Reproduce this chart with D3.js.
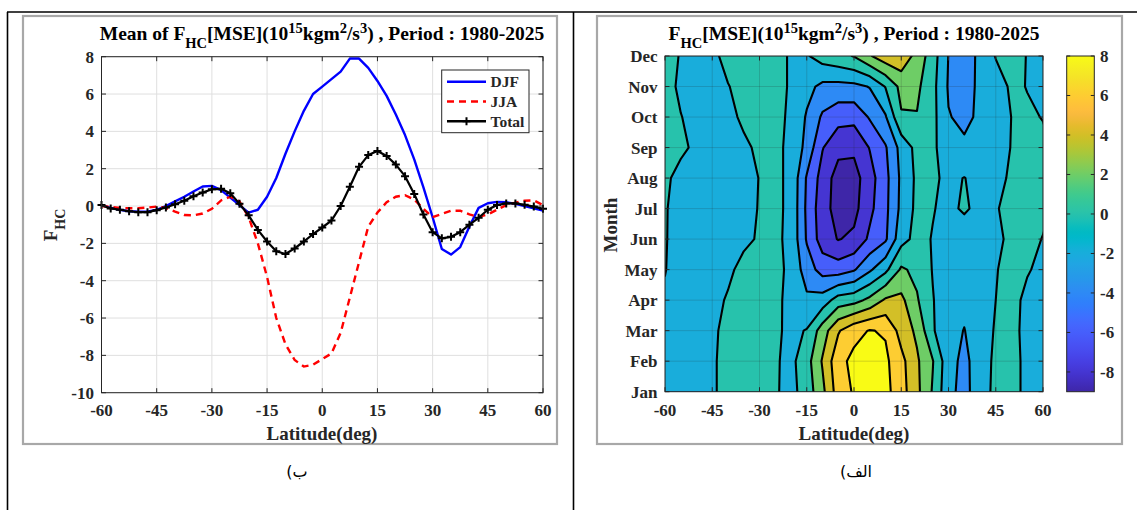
<!DOCTYPE html>
<html>
<head>
<meta charset="utf-8">
<script src="https://cdn.jsdelivr.net/npm/d3@7/dist/d3.min.js"></script>
<style>
html,body{margin:0;padding:0;background:#fff;}
svg text{font-family:"Liberation Serif","Times New Roman",Times,serif;font-weight:bold;fill:#262626;}
</style>
</head>
<body>
<svg id="chart" width="1137" height="510"></svg>
<script>
// ---------------- DATA ----------------
const lineLat = [-60,-57.5,-55,-52.5,-50,-47.5,-45,-42.5,-40,-37.5,-35,-32.5,-30,-27.5,-25,-22.5,-20,-17.5,-15,-12.5,-10,-7.5,-5,-2.5,0,2.5,5,7.5,10,12.5,15,17.5,20,22.5,25,27.5,30,32.5,35,37.5,40,42.5,45,47.5,50,52.5,55,57.5,60];
const djf   = [0.05,-0.1,-0.2,-0.28,-0.3,-0.3,-0.2,0.0,0.25,0.5,0.78,1.05,1.08,0.85,0.45,0.05,-0.35,-0.2,0.5,1.5,2.8,4.0,5.1,6.0,6.4,6.8,7.2,7.9,7.9,7.4,6.7,5.9,4.9,3.8,2.5,1.0,-0.6,-2.3,-2.6,-2.2,-1.1,-0.1,0.15,0.22,0.2,0.12,0.0,-0.12,-0.25];
const jja   = [0.0,-0.05,-0.1,-0.12,-0.12,-0.08,-0.03,-0.1,-0.3,-0.48,-0.5,-0.4,-0.15,0.3,0.5,0.25,-0.6,-2.0,-3.8,-6.0,-7.4,-8.25,-8.6,-8.5,-8.2,-7.9,-6.8,-4.9,-3.0,-1.1,-0.35,0.2,0.5,0.58,0.35,-0.15,-0.6,-0.42,-0.25,-0.25,-0.45,-0.58,-0.45,-0.2,0.05,0.18,0.28,0.3,0.05];
const total = [0.05,-0.13,-0.2,-0.28,-0.33,-0.33,-0.22,-0.08,0.1,0.28,0.52,0.72,0.9,0.92,0.68,0.12,-0.5,-1.28,-1.9,-2.42,-2.57,-2.27,-1.9,-1.5,-1.15,-0.78,0.0,1.03,2.1,2.73,2.95,2.68,2.22,1.6,0.65,-0.45,-1.4,-1.73,-1.65,-1.4,-1.0,-0.63,-0.2,0.05,0.14,0.14,0.07,-0.03,-0.15];
const seriesNames = ["DJF","JJA","Total"];

const xTickVals = [-60,-45,-30,-15,0,15,30,45,60];
const yTickValsLeft = [-10,-8,-6,-4,-2,0,2,4,6,8];
const months = ["Jan","Feb","Mar","Apr","May","Jun","Jul","Aug","Sep","Oct","Nov","Dec"];

// contour field, one row per month, columns = gridLat
const gridLat = [-60,-55,-50,-45,-40,-35,-30,-25,-20,-15,-10,-5,0,5,10,15,20,25,30,35,40,45,50,55,60];
const fJan = [-0.6,-0.5,-0.4,-0.2,0.5,0.8,0.7,0.2,-0.6,0.9,3.5,7.0,8.2,9.0,8.6,6.8,4.5,1.8,-1.5,-2.6,-0.93,0.48,0.4,-0.3,-0.6];
const fFeb = [-0.5,-0.5,-0.4,-0.2,0.5,0.8,0.6,0.2,-0.5,1.2,4.2,7.4,8.5,8.8,8.4,6.6,4.3,2.1,-1.3,-2.5,-1.0,0.4,0.4,-0.3,-0.5];
const fMar = [-0.3,-0.5,-0.4,-0.25,0.4,0.7,0.6,0.3,-0.4,0.1,3.0,5.8,7.4,8.1,7.8,5.2,3.6,0.2,-1.4,-2.05,-1.1,0.2,0.3,-0.3,-0.5];
const fApr = [-0.2,-0.5,-0.5,-0.3,0.1,0.6,0.8,0.4,-0.5,-1.6,-1.1,0.9,1.3,2.5,4.3,4.5,2.2,0.1,-1.2,-1.6,-1.1,0.0,0.4,-0.3,-0.5];
const fMay = [0.05,-0.6,-0.7,-0.5,-0.2,0.3,0.7,0.5,-0.4,-3.0,-4.8,-5.0,-4.2,-2.3,-0.5,2.3,1.5,-0.1,-1.0,-1.3,-0.9,-0.05,0.3,0.1,-0.3];
const fJun = [0.1,-0.6,-0.8,-0.6,-0.4,-0.2,0.1,0.4,-0.5,-4.2,-7.0,-8.1,-7.6,-5.6,-4.3,-0.7,0.6,-0.1,-0.9,-1.3,-0.8,-0.3,0.3,0.4,-0.05];
const fJul = [0.1,-0.5,-0.8,-0.7,-0.5,-0.3,0.05,0.4,-0.4,-4.4,-7.2,-8.8,-8.6,-6.5,-4.5,-1.5,0.5,0.1,-0.5,0.3,-0.6,-0.1,0.4,0.5,0.3];
const fAug = [0.3,-0.5,-0.8,-0.7,-0.5,-0.25,0.02,0.4,-0.4,-4.2,-6.8,-8.9,-8.8,-6.8,-4.6,-1.6,0.4,0.3,-0.4,0.05,-0.6,-0.4,0.2,0.6,0.5];
const fSep = [0.8,0.3,-0.3,-0.6,-0.45,-0.2,0.2,0.4,-0.4,-2.6,-5.9,-7.4,-7.6,-5.9,-4.2,-1.3,0.6,0.5,-1.5,-1.7,-1.2,-0.6,0.05,0.3,0.3];
const fOct = [0.7,0.05,-0.5,-0.5,-0.3,0.2,0.5,0.5,-0.3,-2.2,-4.3,-5.3,-5.4,-3.8,-2.2,1.8,1.9,0.6,-1.9,-2.4,-1.7,-0.9,0.02,0.2,-0.05];
const fNov = [0.6,-0.3,-0.6,-0.5,-0.05,0.4,0.6,0.6,-0.2,-1.4,-2.5,-2.6,-2.5,-1.9,0.1,2.6,2.4,0.6,-2.2,-2.8,-1.6,-0.9,0.3,-0.05,-0.6];
const fDec = [0.6,-0.1,-0.5,-0.3,0.4,0.7,0.7,0.6,-0.2,-0.2,0.9,1.4,2.1,3.8,5.2,5.4,3.3,0.9,-2.05,-2.9,-1.6,0.1,0.5,-0.05,-0.4];

const contourLevels = [-8,-6,-4,-2,0,2,4,6,8];
const colorbarTicks = [-8,-6,-4,-2,0,2,4,6,8];
const colorLimits = [-9, 8];

// MATLAB parula colormap (64 entries)
const parulaColors = [
[0.2422,0.1504,0.6603],[0.2504,0.1650,0.7076],[0.2578,0.1818,0.7511],[0.2647,0.1978,0.7952],[0.2706,0.2147,0.8364],[0.2751,0.2342,0.8710],[0.2783,0.2559,0.8991],[0.2803,0.2782,0.9221],
[0.2813,0.3006,0.9414],[0.2810,0.3228,0.9579],[0.2795,0.3447,0.9717],[0.2760,0.3667,0.9829],[0.2699,0.3892,0.9906],[0.2602,0.4123,0.9952],[0.2440,0.4358,0.9988],[0.2206,0.4603,0.9973],
[0.1963,0.4847,0.9892],[0.1834,0.5074,0.9798],[0.1786,0.5289,0.9682],[0.1764,0.5499,0.9520],[0.1687,0.5703,0.9359],[0.1540,0.5902,0.9218],[0.1460,0.6091,0.9079],[0.1380,0.6276,0.8973],
[0.1248,0.6459,0.8883],[0.1113,0.6635,0.8763],[0.0952,0.6798,0.8598],[0.0689,0.6948,0.8394],[0.0297,0.7082,0.8163],[0.0036,0.7203,0.7917],[0.0067,0.7312,0.7660],[0.0433,0.7411,0.7394],
[0.0964,0.7500,0.7120],[0.1408,0.7584,0.6842],[0.1717,0.7670,0.6554],[0.1938,0.7758,0.6251],[0.2161,0.7843,0.5923],[0.2470,0.7918,0.5567],[0.2906,0.7973,0.5188],[0.3406,0.8008,0.4789],
[0.3909,0.8029,0.4354],[0.4456,0.8024,0.3909],[0.5044,0.7993,0.3480],[0.5616,0.7942,0.3045],[0.6174,0.7876,0.2612],[0.6720,0.7793,0.2227],[0.7242,0.7698,0.1910],[0.7738,0.7598,0.1646],
[0.8203,0.7498,0.1535],[0.8634,0.7406,0.1596],[0.9035,0.7330,0.1774],[0.9393,0.7288,0.2100],[0.9728,0.7298,0.2394],[0.9956,0.7434,0.2371],[0.9970,0.7659,0.2199],[0.9952,0.7893,0.2028],
[0.9892,0.8136,0.1885],[0.9786,0.8386,0.1766],[0.9676,0.8639,0.1643],[0.9610,0.8890,0.1537],[0.9597,0.9135,0.1423],[0.9628,0.9373,0.1265],[0.9691,0.9606,0.1064],[0.9769,0.9839,0.0805]];

// ---------------- DRAW ----------------
const svg = d3.select("#chart");
const AX = "#262626";
const parula = d3.piecewise(d3.interpolateRgb, parulaColors.map(c => d3.rgb(c[0]*255, c[1]*255, c[2]*255)));
const cNorm = d3.scaleLinear().domain(colorLimits).range([0,1]).clamp(true);

function rich(t, parts, size, small){
  let cur = 0;
  parts.forEach(([s,k]) => {
    const target = k === "sub" ? 0.4*size : (k === "sup" ? -0.38*size : 0);
    t.append("tspan").attr("dy", target-cur).attr("font-size", k === "n" ? size : small).text(s);
    cur = target;
  });
}

// page frame (table lines) and picture frames
svg.append("line").attr("x1",7).attr("x2",1137).attr("y1",12).attr("y2",12).attr("stroke","#000").attr("stroke-width",1.6);
svg.append("line").attr("x1",7.5).attr("x2",7.5).attr("y1",12).attr("y2",510).attr("stroke","#000").attr("stroke-width",1.6);
svg.append("line").attr("x1",573.5).attr("x2",573.5).attr("y1",12).attr("y2",510).attr("stroke","#000").attr("stroke-width",1.6);
svg.append("rect").attr("x",23).attr("y",16).attr("width",534).attr("height",428).attr("fill","none").attr("stroke","#a8a8a8").attr("stroke-width",2.2);
svg.append("rect").attr("x",597).attr("y",16).attr("width",525).attr("height",428).attr("fill","none").attr("stroke","#a8a8a8").attr("stroke-width",2.2);

// ===== LEFT: line chart =====
const xL = d3.scaleLinear().domain([-60,60]).range([101.5,543]);
const yL = d3.scaleLinear().domain([-10,8]).range([392.7,56.7]);
const gL = svg.append("g");

gL.selectAll(".gx").data(xTickVals).join("line")
  .attr("x1",d=>xL(d)).attr("x2",d=>xL(d)).attr("y1",yL(8)).attr("y2",yL(-10))
  .attr("stroke","#dfdfdf").attr("stroke-width",1);
gL.selectAll(".gy").data(yTickValsLeft).join("line")
  .attr("x1",xL(-60)).attr("x2",xL(60)).attr("y1",d=>yL(d)).attr("y2",d=>yL(d))
  .attr("stroke","#dfdfdf").attr("stroke-width",1);

const lineGen = d3.line().x((d,i)=>xL(lineLat[i])).y(d=>yL(d));
gL.append("path").attr("d",lineGen(djf)).attr("fill","none").attr("stroke","#0000ff").attr("stroke-width",2.4).attr("stroke-linejoin","round");
gL.append("path").attr("d",lineGen(jja)).attr("fill","none").attr("stroke","#ff0000").attr("stroke-width",2.4).attr("stroke-dasharray","7,5");
gL.append("path").attr("d",lineGen(total)).attr("fill","none").attr("stroke","#000").attr("stroke-width",2.2).attr("stroke-linejoin","round");
gL.selectAll(".mk").data(total).join("path")
  .attr("transform",(d,i)=>`translate(${xL(lineLat[i])},${yL(d)})`)
  .attr("d","M-4,0H4M0,-4V4").attr("stroke","#000").attr("stroke-width",2).attr("fill","none");

// axes box + ticks
gL.append("rect").attr("x",xL(-60)).attr("y",yL(8)).attr("width",xL(60)-xL(-60)).attr("height",yL(-10)-yL(8))
  .attr("fill","none").attr("stroke",AX).attr("stroke-width",1);
const tl = 4.5;
gL.selectAll(".tb").data(xTickVals).join("path")
  .attr("d",d=>`M${xL(d)},${yL(-10)}v${-tl}M${xL(d)},${yL(8)}v${tl}`).attr("stroke",AX).attr("stroke-width",1);
gL.selectAll(".tlft").data(yTickValsLeft).join("path")
  .attr("d",d=>`M${xL(-60)},${yL(d)}h${tl}M${xL(60)},${yL(d)}h${-tl}`).attr("stroke",AX).attr("stroke-width",1);
gL.selectAll(".xl").data(xTickVals).join("text")
  .attr("x",d=>xL(d)).attr("y",416).attr("text-anchor","middle").attr("font-size",17).text(d=>d);
gL.selectAll(".yl").data(yTickValsLeft).join("text")
  .attr("x",94).attr("y",d=>yL(d)+6).attr("text-anchor","end").attr("font-size",17).text(d=>d);

// legend
const lg = gL.append("g");
lg.append("rect").attr("x",441.7).attr("y",70).attr("width",87.3).attr("height",62.7).attr("fill","#fff").attr("stroke",AX).attr("stroke-width",1);
const legStyles = [
  {c:"#0000ff", dash:null, mk:false},
  {c:"#ff0000", dash:"7,5", mk:false},
  {c:"#000000", dash:null, mk:true}];
seriesNames.forEach((n,i)=>{
  const yy = 81.7 + i*19.8;
  lg.append("line").attr("x1",447).attr("x2",486).attr("y1",yy).attr("y2",yy)
    .attr("stroke",legStyles[i].c).attr("stroke-width",2.4).attr("stroke-dasharray",legStyles[i].dash);
  if (legStyles[i].mk) lg.append("path").attr("d",`M462.5,${yy}h8M466.5,${yy-4}v8`).attr("stroke","#000").attr("stroke-width",2);
  lg.append("text").attr("x",490.5).attr("y",yy+5.5).attr("font-size",15.5).attr("fill","#000").text(n);
});

// titles / labels
rich(gL.append("text").attr("x",322).attr("y",40).attr("text-anchor","middle").style("fill","#000"),
  [["Mean of F","n"],["HC","sub"],["[MSE](10","n"],["15","sup"],["kgm","n"],["2","sup"],["/s","n"],["3","sup"],[") , Period : 1980-2025","n"]],19.5,14.5);
gL.append("text").attr("x",322).attr("y",440).attr("text-anchor","middle").attr("font-size",19).text("Latitude(deg)");
rich(gL.append("text").attr("transform","translate(57,225) rotate(-90)").attr("text-anchor","middle"),
  [["F","n"],["HC","sub"]],19,14);

// ===== RIGHT: filled contour =====
const xR = d3.scaleLinear().domain([-60,60]).range([665,1043]);
const yR = d3.scaleLinear().domain([1,12]).range([391.7,56]);
const rows = [fJan,fFeb,fMar,fApr,fMay,fJun,fJul,fAug,fSep,fOct,fNov,fDec];
const nx = gridLat.length, ny = rows.length;
const values = [].concat(...rows);
const gx2lat = d3.scaleLinear().domain([0.5, nx-0.5]).range([gridLat[0], gridLat[nx-1]]);
const gy2mon = d3.scaleLinear().domain([0.5, ny-0.5]).range([1, 12]);
const proj = d3.geoTransform({point:function(px,py){ this.stream.point(xR(gx2lat(px)), yR(gy2mon(py))); }});
const gpath = d3.geoPath(proj);
const cont = d3.contours().size([nx,ny]).thresholds(contourLevels)(values);

const defs = svg.append("defs");
defs.append("clipPath").attr("id","clipR").append("rect")
  .attr("x",xR(-60)).attr("y",yR(12)).attr("width",xR(60)-xR(-60)).attr("height",yR(1)-yR(12));
const gR = svg.append("g");
const gc = gR.append("g").attr("clip-path","url(#clipR)");
gc.append("rect").attr("x",xR(-60)).attr("y",yR(12)).attr("width",xR(60)-xR(-60)).attr("height",yR(1)-yR(12))
  .attr("fill",parula(0));
gc.selectAll(".cf").data(cont).join("path").attr("d",gpath)
  .attr("fill",d=>parula(cNorm(d.value))).attr("fill-rule","evenodd").attr("stroke","none");
gc.selectAll(".rgx").data(xTickVals).join("line")
  .attr("x1",d=>xR(d)).attr("x2",d=>xR(d)).attr("y1",yR(12)).attr("y2",yR(1))
  .attr("stroke","rgba(38,38,38,0.18)").attr("stroke-width",1);
gc.selectAll(".rgy").data(months).join("line")
  .attr("x1",xR(-60)).attr("x2",xR(60)).attr("y1",(d,i)=>yR(i+1)).attr("y2",(d,i)=>yR(i+1))
  .attr("stroke","rgba(38,38,38,0.18)").attr("stroke-width",1);
gc.selectAll(".cl").data(cont).join("path").attr("d",gpath)
  .attr("fill","none").attr("stroke","#000").attr("stroke-width",2.1).attr("stroke-linejoin","round");

gR.append("rect").attr("x",xR(-60)).attr("y",yR(12)).attr("width",xR(60)-xR(-60)).attr("height",yR(1)-yR(12))
  .attr("fill","none").attr("stroke",AX).attr("stroke-width",1);
gR.selectAll(".rtb").data(xTickVals).join("path")
  .attr("d",d=>`M${xR(d)},${yR(1)}v${-tl}M${xR(d)},${yR(12)}v${tl}`).attr("stroke",AX).attr("stroke-width",1);
gR.selectAll(".rtl").data(months).join("path")
  .attr("d",(d,i)=>`M${xR(-60)},${yR(i+1)}h${tl}M${xR(60)},${yR(i+1)}h${-tl}`).attr("stroke",AX).attr("stroke-width",1);
gR.selectAll(".rxl").data(xTickVals).join("text")
  .attr("x",d=>xR(d)).attr("y",416).attr("text-anchor","middle").attr("font-size",17).text(d=>d);
gR.selectAll(".ryl").data(months).join("text")
  .attr("x",657.5).attr("y",(d,i)=>yR(i+1)+6).attr("text-anchor","end").attr("font-size",17).text(d=>d);

rich(gR.append("text").attr("x",854).attr("y",40).attr("text-anchor","middle").style("fill","#000"),
  [["F","n"],["HC","sub"],["[MSE](10","n"],["15","sup"],["kgm","n"],["2","sup"],["/s","n"],["3","sup"],[") , Period : 1980-2025","n"]],19.5,14.5);
gR.append("text").attr("x",854).attr("y",440).attr("text-anchor","middle").attr("font-size",19).text("Latitude(deg)");
gR.append("text").attr("transform","translate(617,225) rotate(-90)").attr("text-anchor","middle").attr("font-size",19).text("Month");

// colorbar
const cb = {x:1066.7, w:27.6};
const yC = d3.scaleLinear().domain(colorLimits).range([391.7,56]);
const grad = defs.append("linearGradient").attr("id","parulaGrad").attr("x1",0).attr("y1",1).attr("x2",0).attr("y2",0);
parulaColors.forEach((c,i)=>{
  grad.append("stop").attr("offset",(i/(parulaColors.length-1)))
    .attr("stop-color",d3.rgb(c[0]*255,c[1]*255,c[2]*255).formatHex());
});
gR.append("rect").attr("x",cb.x).attr("y",yC(colorLimits[1])).attr("width",cb.w).attr("height",yC(colorLimits[0])-yC(colorLimits[1]))
  .attr("fill","url(#parulaGrad)").attr("stroke",AX).attr("stroke-width",1);
gR.selectAll(".cbt").data(colorbarTicks).join("path")
  .attr("d",d=>`M${cb.x+cb.w},${yC(d)}h-3.5M${cb.x},${yC(d)}h3.5`).attr("stroke",AX).attr("stroke-width",1);
gR.selectAll(".cbl").data(colorbarTicks).join("text")
  .attr("x",1100).attr("y",d=>yC(d)+6).attr("font-size",17).text(d=>d);

// captions
svg.append("text").attr("x",297).attr("y",477).attr("text-anchor","middle")
  .style("font-family","'DejaVu Sans',sans-serif").style("font-weight","normal").style("fill","#000")
  .style("direction","rtl").style("unicode-bidi","embed").attr("font-size",16).text("ب)");
svg.append("text").attr("x",856).attr("y",477).attr("text-anchor","middle")
  .style("font-family","'DejaVu Sans',sans-serif").style("font-weight","normal").style("fill","#000")
  .style("direction","rtl").style("unicode-bidi","embed").attr("font-size",16).text("الف)");
</script>
</body>
</html>
